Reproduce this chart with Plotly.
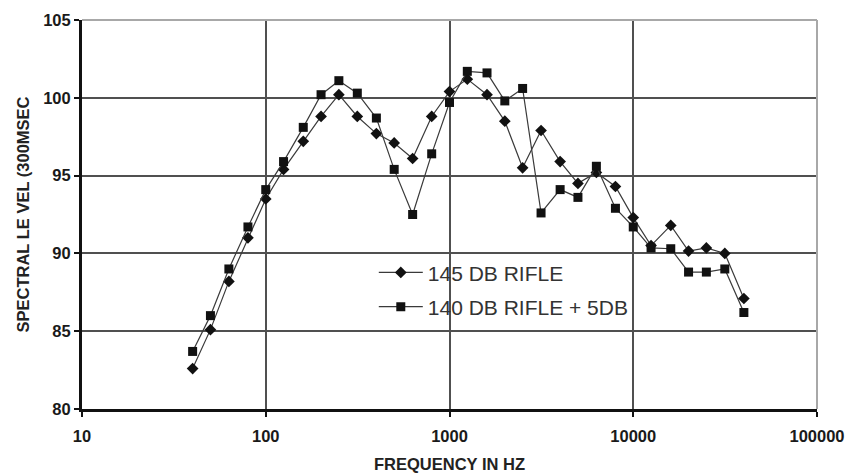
import plotly.graph_objects as go

freq = [40, 50, 63, 80, 100, 125, 160, 200, 250, 315, 400, 500, 630, 800, 1000,
        1250, 1600, 2000, 2500, 3150, 4000, 5000, 6300, 8000, 10000, 12500,
        16000, 20000, 25000, 31500, 40000]
rifle145 = [82.6, 85.1, 88.2, 91.0, 93.5, 95.4, 97.2, 98.8, 100.2, 98.8, 97.7, 97.1,
            96.1, 98.8, 100.4, 101.2, 100.2, 98.5, 95.5, 97.9, 95.9, 94.5, 95.2,
            94.3, 92.3, 90.5, 91.8, 90.15, 90.35, 90.0, 87.1]
rifle140 = [83.7, 86.0, 89.0, 91.7, 94.1, 95.9, 98.1, 100.2, 101.1, 100.3, 98.7, 95.4,
            92.5, 96.4, 99.7, 101.7, 101.6, 99.8, 100.6, 92.6, 94.1, 93.6, 95.6,
            92.9, 91.7, 90.35, 90.3, 88.8, 88.8, 89.0, 86.2]
names = ["145 DB RIFLE", "140 DB RIFLE + 5DB"]
x_ticks = [10, 100, 1000, 10000, 100000]
x_tick_text = ["10", "100", "1000", "10000", "100000"]
y_ticks = [80, 85, 90, 95, 100, 105]

FONT = "Liberation Sans, Arial, sans-serif"
LINE = "#3a3a3a"

fig = go.Figure()
fig.add_trace(go.Scatter(
    x=freq, y=rifle145, name=names[0], mode="lines+markers", legendgroup="a",
    line=dict(color=LINE, width=1.2),
    marker=dict(symbol="diamond", size=9, color="#111111"),
))
fig.add_trace(go.Scatter(
    x=freq, y=rifle140, name=names[1], mode="lines+markers", legendgroup="b",
    line=dict(color=LINE, width=1.2),
    marker=dict(symbol="square", size=9, color="#111111"),
))

# white legend backdrop hiding the gridlines behind the legend
fig.add_shape(type="rect", xref="paper", yref="paper", x0=0.348, x1=0.80,
              y0=0.2185, y1=0.4036, fillcolor="white", line=dict(width=0),
              layer="between")
# lighter frame on top and right
fig.add_shape(type="line", xref="paper", yref="paper", x0=0, x1=1, y0=1, y1=1,
              line=dict(color="#a8a8a8", width=2), layer="above")
fig.add_shape(type="line", xref="paper", yref="paper", x0=1, x1=1, y0=0, y1=1,
              line=dict(color="#a8a8a8", width=2), layer="above")

fig.update_layout(
    width=847, height=475,
    margin=dict(l=82, r=30, t=20, b=66),
    paper_bgcolor="white", plot_bgcolor="white",
    font=dict(family=FONT, color="#222222"),
    showlegend=True,
    legend=dict(
        x=0.397, y=0.403, xanchor="left", yanchor="top",
        xref="paper", yref="paper",
        bgcolor="rgba(0,0,0,0)", borderwidth=0,
        font=dict(family=FONT, size=21, color="#333333"),
        itemwidth=44, tracegroupgap=4,
    ),
    xaxis=dict(
        type="log", range=[1, 5], automargin=False,
        tickvals=x_ticks, ticktext=x_tick_text,
        showgrid=True, gridcolor="#505050", gridwidth=2,
        showline=True, linecolor="#111111", linewidth=3,
        ticks="outside", ticklen=5, tickwidth=2, tickcolor="#111111",
        ticklabelstandoff=5,
        tickfont=dict(family=FONT, size=16.5, color="#1a1a1a", weight="bold"),
        title=dict(text="FREQUENCY IN HZ", standoff=15,
                   font=dict(family=FONT, size=16.5, color="#222222", weight="bold")),
        zeroline=False,
    ),
    yaxis=dict(
        range=[80, 105], tickvals=y_ticks, automargin=False,
        showgrid=True, gridcolor="#505050", gridwidth=2,
        showline=True, linecolor="#111111", linewidth=3,
        ticks="outside", ticklen=5, tickwidth=2, tickcolor="#111111",
        tickfont=dict(family=FONT, size=16.5, color="#1a1a1a", weight="bold"),
        title=dict(text="SPECTRAL LE VEL (300MSEC", standoff=10,
                   font=dict(family=FONT, size=16.5, color="#222222", weight="bold")),
        zeroline=False,
    ),
)

fig.write_html("out.html")
